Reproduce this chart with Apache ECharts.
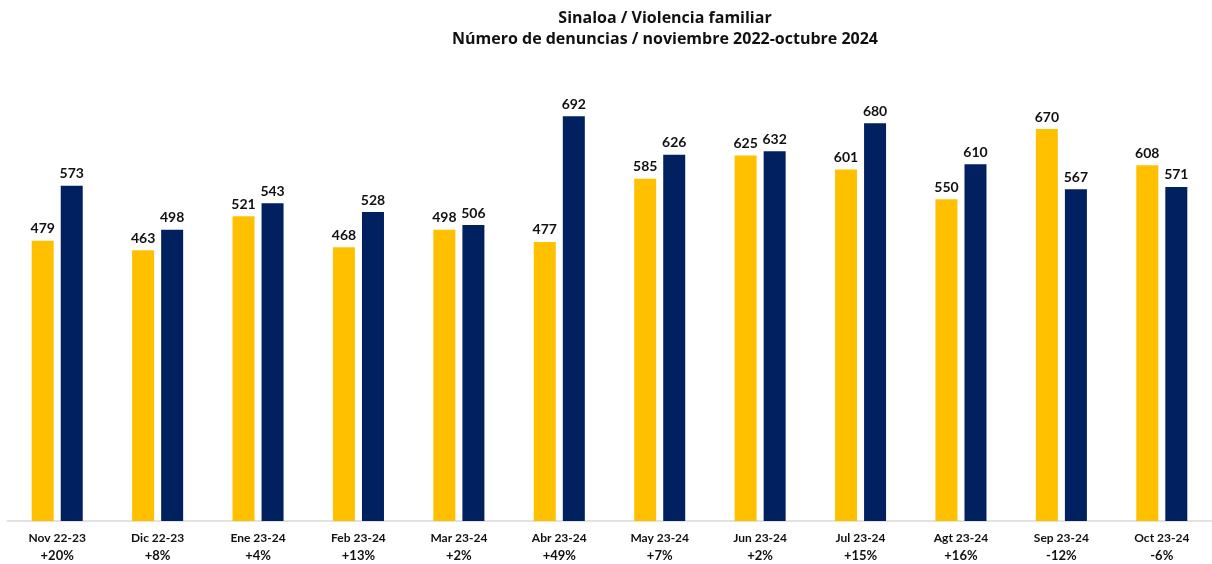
<!DOCTYPE html>
<html>
<head>
<meta charset="utf-8">
<script src="https://cdn.jsdelivr.net/npm/echarts@6/dist/echarts.min.js"></script>
<style>
  html, body { margin: 0; padding: 0; background: #fff; }
  #chart { width: 1212px; height: 564px; }
</style>
</head>
<body>
<div id="chart"></div>
<script>
// periodos y variación porcentual
const months = ['Nov 22-23', 'Dic 22-23', 'Ene 23-24', 'Feb 23-24', 'Mar 23-24', 'Abr 23-24',
  'May 23-24', 'Jun 23-24', 'Jul 23-24', 'Agt 23-24', 'Sep 23-24', 'Oct 23-24'];
const changes = ['+20%', '+8%', '+4%', '+13%', '+2%', '+49%', '+7%', '+2%', '+15%', '+16%', '-12%', '-6%'];
const prevYear = [479, 463, 521, 468, 498, 477, 585, 625, 601, 550, 670, 608];
const currYear = [573, 498, 543, 528, 506, 692, 626, 632, 680, 610, 567, 571];

const font = 'Lato, "Open Sans", sans-serif';
const chart = echarts.init(document.getElementById('chart'));

const barLabel = {
  show: true,
  position: 'top',
  distance: 5,
  color: '#111',
  fontFamily: font,
  fontWeight: 'bold',
  fontSize: 14
};

chart.setOption({
  animation: false,
  title: {
    text: 'Sinaloa / Violencia familiar\nNúmero de denuncias / noviembre 2022-octubre 2024',
    left: 660,
    textAlign: 'center',
    top: 3,
    textStyle: {
      fontFamily: '"Open Sans", sans-serif',
      fontWeight: 'bold',
      fontSize: 16,
      lineHeight: 21,
      color: '#111'
    }
  },
  grid: { left: 7, right: -4, top: 53, bottom: 43 },
  xAxis: {
    type: 'category',
    data: months,
    axisLine: { lineStyle: { color: '#d9d9d9', width: 1.5 } },
    axisTick: { show: false },
    axisLabel: {
      interval: 0,
      margin: 9,
      fontFamily: font,
      fontWeight: 'bold',
      fontSize: 12,
      lineHeight: 17,
      color: '#111',
      formatter: (v, i) => v + '\n{p|' + changes[i] + '}',
      rich: {
        p: { fontFamily: font, fontWeight: 'bold', fontSize: 13, lineHeight: 17, color: '#111' }
      }
    }
  },
  yAxis: {
    type: 'value',
    min: 0,
    max: 800,
    show: false,
    splitLine: { show: false }
  },
  series: [
    {
      name: '2022-2023',
      type: 'bar',
      data: prevYear,
      barWidth: 22,
      barGap: '32%',
      itemStyle: { color: '#FFC000' },
      label: barLabel
    },
    {
      name: '2023-2024',
      type: 'bar',
      data: currYear,
      barWidth: 22,
      itemStyle: { color: '#002060' },
      label: barLabel
    }
  ]
});
</script>
</body>
</html>
